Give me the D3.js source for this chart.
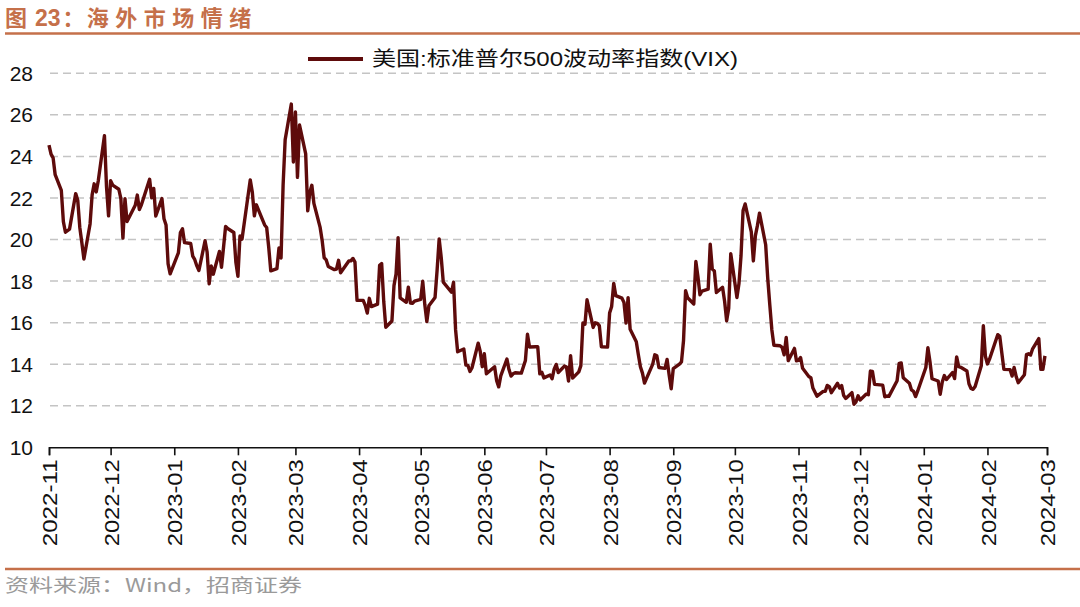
<!DOCTYPE html>
<html><head><meta charset="utf-8">
<script src="https://cdn.jsdelivr.net/npm/d3@7"></script>
<style>body{margin:0;background:#fff}svg{display:block}</style>
</head><body><svg id="c" width="1080" height="607"></svg>
<script>
const titleParts = ["图", "23", "：", "海外市场情绪"];
const seriesName = "美国:标准普尔500波动率指数(VIX)";
const source = "资料来源：Wind，招商证券";
const yTicks = [10, 12, 14, 16, 18, 20, 22, 24, 26, 28];
const xTickLabels = ["2022-11","2022-12","2023-01","2023-02","2023-03","2023-04","2023-05","2023-06","2023-07","2023-08","2023-09","2023-10","2023-11","2023-12","2024-01","2024-02","2024-03"];
// trading calendar (market holidays) for the observations
const firstObs = "2022-11-15", lastObs = "2024-03-14";
const holidays = ["2022-11-24","2022-12-26","2023-01-02","2023-01-16","2023-02-20","2023-04-07","2023-05-29","2023-06-19","2023-07-04","2023-09-04","2023-11-23","2023-12-25","2024-01-01","2024-01-15","2024-02-19"];
// the source chart's date axis runs this many days behind the observation dates
const axisLagDays = 14;

// VIX daily closes
const vix2022 = [24.54,24.11,23.93,23.12,22.36,20.86,20.35,20.50,22.21,21.89,20.58,
  19.84,19.06,20.75,22.15,22.68,22.29,22.83,25.00,22.55,21.14,22.83,22.62,22.42,21.97,20.07,21.97,20.87,21.65,22.14,21.44,21.67];
const vix2023H1 = [22.90,22.01,22.46,21.13,21.97,21.00,20.70,18.83,18.35,19.36,20.34,20.52,19.85,19.81,19.20,19.03,18.73,18.51,19.94,19.40,
  17.87,18.73,18.33,19.43,18.66,19.63,20.63,20.53,20.34,18.91,18.23,20.17,20.02,22.87,22.29,21.14,21.67,20.95,20.70,
  20.58,19.63,18.49,18.60,19.59,19.11,22.61,24.80,26.52,23.73,26.14,22.99,25.51,24.12,21.38,22.26,22.61,21.74,20.60,19.97,19.12,19.02,18.70,
  18.55,18.58,19.00,18.40,18.97,18.97,19.09,18.91,17.07,17.07,16.83,16.46,17.17,16.77,16.89,18.76,18.84,17.03,15.78,
  16.08,17.78,18.34,20.09,17.19,16.98,17.71,16.94,16.93,17.03,17.12,17.99,16.87,16.05,16.81,17.21,18.53,20.03,19.14,17.95,17.46,17.94,
  15.65,14.60,14.73,13.96,13.94,13.65,13.83,15.01,14.61,13.88,14.50,13.54,13.88,13.20,12.91,13.44,14.25,13.74,13.43,13.54,13.59];
const vix2023H2 = [13.57,14.18,15.44,14.83,14.84,14.84,13.54,13.61,13.34,13.48,13.30,13.76,13.99,13.60,13.91,13.86,13.19,14.41,13.33,13.63,
  13.93,15.99,15.92,17.10,15.77,15.99,15.96,15.85,14.84,14.82,16.46,16.78,17.89,17.30,17.18,16.97,15.98,17.20,15.68,15.08,14.45,13.88,13.57,
  13.09,14.00,14.45,14.40,13.84,13.80,14.23,13.48,12.82,13.79,14.00,14.11,15.14,17.54,17.20,16.90,18.94,18.22,17.34,17.52,
  17.61,19.78,18.58,18.49,17.45,17.70,17.03,16.09,16.69,19.32,17.21,17.88,19.22,21.40,21.71,20.37,18.97,20.19,20.68,21.27,19.75,18.14,
  16.87,15.66,14.91,14.89,14.81,14.45,15.29,14.17,14.76,14.16,14.18,14.32,13.80,13.41,13.35,12.85,12.46,12.69,12.69,12.98,12.92,
  12.63,13.08,12.85,12.97,12.49,12.35,12.63,12.07,12.19,12.48,12.28,12.56,12.53,13.67,13.65,13.03,12.99,12.43,12.47,12.45];
const vix2024 = [13.20,14.04,14.06,13.35,13.08,12.76,12.69,12.44,12.70,13.84,14.79,14.13,13.30,13.19,12.55,13.14,13.45,13.26,13.60,13.31,14.35,
  13.88,13.85,13.67,13.06,12.83,12.79,12.93,13.93,15.85,14.38,14.01,14.24,15.42,15.34,14.54,13.75,13.74,13.43,13.84,13.40,
  13.11,13.49,14.46,14.50,14.44,14.74,15.23,13.75,13.75,14.40];

const values = vix2022.concat(vix2023H1, vix2023H2, vix2024);
const parse = d3.timeParse("%Y-%m-%d"), fmt = d3.timeFormat("%Y-%m-%d");
const hol = new Set(holidays);
const days = d3.timeDay.range(parse(firstObs), d3.timeDay.offset(parse(lastObs), 1))
  .filter(d => d.getDay() !== 0 && d.getDay() !== 6 && !hol.has(fmt(d)));
if (days.length !== values.length) console.error("length mismatch", days.length, values.length);
const data = values.map((v, i) => ({date: d3.timeDay.offset(days[i], -axisLagDays), v}));

const svg = d3.select("#c");
const accent = "#C5704A";
const lineColor = "#5E0B0B";
const x = d3.scaleTime()
  .domain([d3.timeParse("%Y-%m")(xTickLabels[0]), d3.timeParse("%Y-%m")(xTickLabels[xTickLabels.length-1])])
  .range([49, 1047]);
const y = d3.scaleLinear().domain([10, 28]).range([447.3, 73.3]);

// title
const t = svg.append("text").attr("x", 5).attr("y", 26)
  .attr("font-family", "'Noto Sans CJK SC', sans-serif").attr("font-weight", 700)
  .attr("font-size", 22).attr("fill", accent);
t.append("tspan").text(titleParts[0]);
t.append("tspan").attr("dx", 8).attr("font-family", "'Liberation Sans', Arial, sans-serif").attr("font-size", 23).text(titleParts[1]);
t.append("tspan").attr("dx", 2).text(titleParts[2]);
t.append("tspan").attr("dx", 2).attr("letter-spacing", 6.5).text(titleParts[3]);
svg.append("line").attr("x1", 5).attr("x2", 1080).attr("y1", 33.5).attr("y2", 33.5)
  .attr("stroke", accent).attr("stroke-width", 2.5);

// grid
svg.append("g").selectAll("line").data(yTicks.filter(t => t > 10)).join("line")
  .attr("x1", 50).attr("x2", 1048)
  .attr("y1", d => y(d)).attr("y2", d => y(d))
  .attr("stroke", "#C4C4C4").attr("stroke-width", 1.5).attr("stroke-dasharray", "8,5");

// y labels
svg.append("g").selectAll("text").data(yTicks).join("text")
  .attr("x", 33).attr("y", d => y(d)).attr("dy", "0.36em")
  .attr("text-anchor", "end")
  .attr("font-family", "'Liberation Sans', Arial, sans-serif").attr("font-size", 21)
  .attr("fill", "#111")
  .text(d => d);

// x axis
const xTicks = xTickLabels.map(s => d3.timeParse("%Y-%m")(s));
const xAxis = d3.axisBottom(x).tickValues(xTicks).tickSize(8).tickFormat(d3.timeFormat("%Y-%m"));
const gx = svg.append("g").attr("transform", `translate(0,${y(10)})`).call(xAxis);
gx.select(".domain").attr("stroke", "#111").attr("stroke-width", 1.6);
gx.selectAll(".tick line").attr("stroke", "#111").attr("stroke-width", 1.6);
gx.selectAll(".tick text")
  .attr("font-family", "'Liberation Sans', Arial, sans-serif").attr("font-size", 21).attr("fill", "#111")
  .attr("transform", "rotate(-90)")
  .attr("text-anchor", "end")
  .attr("x", -12).attr("y", 0).attr("dy", "0.36em")
  .attr("textLength", 87).attr("lengthAdjust", "spacingAndGlyphs");

// line
const line = d3.line().x(d => x(d.date)).y(d => y(d.v));
svg.append("path").datum(data).attr("d", line)
  .attr("fill", "none").attr("stroke", lineColor).attr("stroke-width", 3.4)
  .attr("stroke-linejoin", "round");

// legend
svg.append("line").attr("x1", 308).attr("x2", 363).attr("y1", 59).attr("y2", 59)
  .attr("stroke", lineColor).attr("stroke-width", 3.8);
svg.append("text").attr("x", 372).attr("y", 59).attr("dy", "0.36em")
  .attr("font-family", "'Liberation Sans', 'Noto Sans CJK SC', sans-serif").attr("font-size", 20)
  .attr("fill", "#111").attr("textLength", 366).attr("lengthAdjust", "spacingAndGlyphs")
  .text(seriesName);

// footer
svg.append("line").attr("x1", 5).attr("x2", 1080).attr("y1", 569).attr("y2", 569)
  .attr("stroke", accent).attr("stroke-width", 2.5);
svg.append("text").attr("x", 5).attr("y", 592)
  .attr("font-family", "'Noto Sans CJK SC', sans-serif").attr("font-size", 18)
  .attr("fill", "#9A9A9A").attr("textLength", 297).attr("lengthAdjust", "spacingAndGlyphs")
  .text(source);
</script></body></html>
